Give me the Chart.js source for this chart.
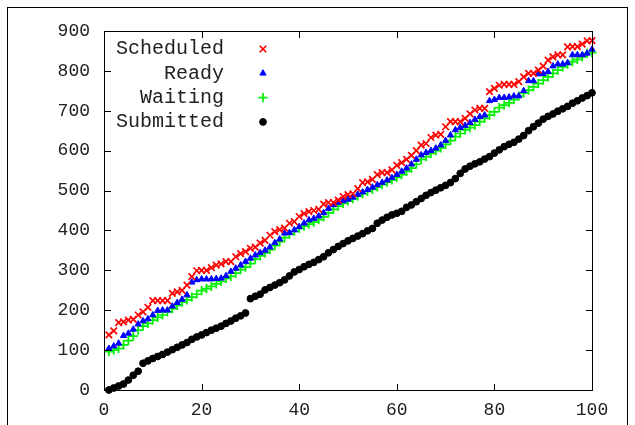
<!DOCTYPE html>
<html>
<head>
<meta charset="utf-8">
<script src="https://cdn.jsdelivr.net/npm/chart.js@4.4.1/dist/chart.umd.min.js"></script>
<style>
  html, body { margin: 0; padding: 0; background: #fff; }
  #chart { display: block; }
</style>
</head>
<body>
<canvas id="chart" width="635" height="425"></canvas>
<script>
const steps = [
  1, 2, 3, 4, 5, 6, 7, 8, 9, 10, 11, 12, 13, 14, 15, 16, 17, 18, 19, 20,
  21, 22, 23, 24, 25, 26, 27, 28, 29, 30, 31, 32, 33, 34, 35, 36, 37, 38, 39, 40,
  41, 42, 43, 44, 45, 46, 47, 48, 49, 50, 51, 52, 53, 54, 55, 56, 57, 58, 59, 60,
  61, 62, 63, 64, 65, 66, 67, 68, 69, 70, 71, 72, 73, 74, 75, 76, 77, 78, 79, 80,
  81, 82, 83, 84, 85, 86, 87, 88, 89, 90, 91, 92, 93, 94, 95, 96, 97, 98, 99, 100
];

const scheduled = [
  138, 148, 169, 171, 175, 177, 188, 196, 207, 224, 224, 224, 224, 242, 246, 250, 263, 284, 299, 300,
  300, 307, 313, 316, 322, 322, 334, 342, 347, 355, 358, 368, 375, 388, 397, 402, 406, 418, 422, 435,
  442, 447, 450, 453, 466, 470, 470, 476, 485, 490, 492, 505, 520, 522, 528, 540, 545, 545, 552, 563,
  570, 578, 588, 600, 614, 618, 633, 639, 641, 660, 673, 673, 673, 681, 692, 702, 706, 706, 748, 756,
  764, 766, 766, 766, 773, 785, 794, 794, 802, 812, 827, 835, 840, 840, 860, 861, 861, 867, 875, 876
];

const ready = [
  104, 110, 117, 136, 142, 152, 165, 173, 178, 188, 199, 200, 200, 210, 219, 227, 238, 270, 276, 278,
  278, 278, 279, 280, 286, 297, 305, 313, 322, 330, 338, 344, 350, 358, 369, 378, 393, 394, 401, 409,
  418, 426, 430, 436, 444, 455, 464, 470, 474, 478, 483, 490, 496, 502, 508, 514, 520, 526, 532, 540,
  548, 556, 566, 578, 589, 595, 600, 606, 614, 625, 639, 652, 658, 663, 670, 678, 685, 689, 725, 728,
  733, 733, 734, 737, 737, 750, 775, 775, 792, 793, 798, 812, 817, 817, 820, 840, 840, 840, 844, 854
];

const waiting = [
  96, 100, 104, 113, 124, 135, 150, 160, 167, 175, 182, 188, 196, 204, 212, 220, 226, 233, 240, 249,
  254, 260, 266, 272, 280, 285, 293, 302, 308, 317, 328, 336, 344, 352, 362, 372, 382, 391, 398, 405,
  411, 416, 421, 427, 434, 444, 453, 461, 468, 474, 480, 486, 492, 498, 503, 509, 515, 521, 527, 533,
  540, 548, 556, 566, 578, 585, 593, 600, 607, 616, 625, 635, 643, 652, 658, 664, 673, 681, 689, 697,
  708, 714, 720, 728, 737, 745, 752, 760, 768, 777, 785, 794, 802, 810, 817, 823, 829, 835, 844, 846
];

const submitted = [
  0, 5, 10, 15, 25, 37, 47, 67, 73, 79, 84, 89, 95, 101, 107, 113, 119, 127, 133, 138,
  144, 150, 155, 160, 167, 173, 180, 186, 193, 229, 235, 240, 251, 257, 263, 269, 276, 286, 296, 302,
  309, 315, 320, 327, 334, 344, 352, 360, 367, 374, 380, 386, 392, 399, 405, 418, 426, 433, 439, 443,
  448, 458, 464, 472, 480, 488, 495, 501, 507, 513, 520, 530, 543, 554, 561, 567, 572, 579, 585, 594,
  602, 610, 616, 621, 629, 638, 650, 660, 669, 679, 686, 692, 699, 705, 711, 719, 725, 732, 738, 745
];

const xTicks = [0, 20, 40, 60, 80, 100];
const yTicks = [0, 100, 200, 300, 400, 500, 600, 700, 800, 900];

const FONT = "'Liberation Mono', 'DejaVu Sans Mono', monospace";

function toPoints(values) {
  return values.map((v, i) => ({ x: steps[i], y: v }));
}

const series = [
  { label: "Scheduled", data: scheduled, color: "#ff0000", style: "crossRot", radius: 4.6, border: 1.7 },
  { label: "Ready", data: ready, color: "#0000ff", style: "triangle", radius: 3.6, border: 1 },
  { label: "Waiting", data: waiting, color: "#00f000", style: "cross", radius: 4.6, border: 1.7 },
  { label: "Submitted", data: submitted, color: "#000000", style: "circle", radius: 3.4, border: 1 },
];

// page border + gnuplot style box with inward ticks on all four sides
const framePlugin = {
  id: "framePlugin",
  afterDraw(chart) {
    const { ctx, chartArea: a, scales } = chart;
    const l = Math.round(a.left);
    const r = Math.round(a.right);
    const t = Math.round(a.top);
    const b = Math.round(a.bottom);
    const len = 6;

    ctx.save();
    ctx.fillStyle = "#000";

    // outer page border
    ctx.fillRect(7, 7, 621, 1);
    ctx.fillRect(7, 7, 1, 425);
    ctx.fillRect(627, 7, 1, 425);

    // plot box
    ctx.fillRect(l, t, r - l + 1, 1);
    ctx.fillRect(l, b, r - l + 1, 1);
    ctx.fillRect(l, t, 1, b - t + 1);
    ctx.fillRect(r, t, 1, b - t + 1);

    xTicks.forEach((v) => {
      const x = Math.round(scales.x.getPixelForValue(v));
      ctx.fillRect(x, b - len, 1, len);
      ctx.fillRect(x, t + 1, 1, len);
    });
    yTicks.forEach((v) => {
      const y = Math.round(scales.y.getPixelForValue(v));
      ctx.fillRect(l + 1, y, len, 1);
      ctx.fillRect(r - len, y, len, 1);
    });
    ctx.restore();
  },
};

const keyPlugin = {
  id: "keyPlugin",
  afterDatasetsDraw(chart) {
    const { ctx } = chart;
    ctx.save();
    ctx.font = "20px " + FONT;
    ctx.textAlign = "right";
    ctx.textBaseline = "middle";

    chart.data.datasets.forEach((ds, i) => {
      const y = 49 + i * 24.3;
      ctx.fillStyle = "#222";
      ctx.fillText(ds.label, 224, y);

      ctx.fillStyle = ds.backgroundColor;
      ctx.strokeStyle = ds.borderColor;
      ctx.lineWidth = ds.pointBorderWidth;
      Chart.helpers.drawPoint(ctx, {
        pointStyle: ds.pointStyle,
        radius: ds.pointRadius,
        rotation: 0,
        borderWidth: ds.pointBorderWidth,
      }, 263, y);
    });
    ctx.restore();
  },
};

new Chart(document.getElementById("chart"), {
  type: "scatter",
  data: {
    datasets: series.map((s) => ({
      label: s.label,
      data: toPoints(s.data),
      backgroundColor: s.color,
      borderColor: s.color,
      pointStyle: s.style,
      pointRadius: s.radius,
      pointBorderWidth: s.border,
      clip: false,
    })),
  },
  options: {
    responsive: false,
    animation: false,
    events: [],
    layout: {
      padding: { left: 0, right: 43, top: 31, bottom: 0 },
    },
    scales: {
      x: {
        type: "linear",
        min: 0,
        max: 100,
        afterFit(scale) { scale.height = 35; },
        afterBuildTicks(scale) { scale.ticks = xTicks.map((v) => ({ value: v })); },
        grid: { display: false, drawTicks: false },
        border: { display: false },
        ticks: {
          padding: 9,
          color: "#222",
          font: { family: FONT, size: 18 },
          maxRotation: 0,
        },
      },
      y: {
        type: "linear",
        min: 0,
        max: 900,
        afterFit(scale) { scale.width = 104; },
        afterBuildTicks(scale) { scale.ticks = yTicks.map((v) => ({ value: v })); },
        grid: { display: false, drawTicks: false },
        border: { display: false },
        ticks: {
          padding: 14,
          color: "#222",
          font: { family: FONT, size: 18 },
        },
      },
    },
    plugins: {
      legend: { display: false },
      tooltip: { enabled: false },
    },
  },
  plugins: [framePlugin, keyPlugin],
});
</script>
</body>
</html>
